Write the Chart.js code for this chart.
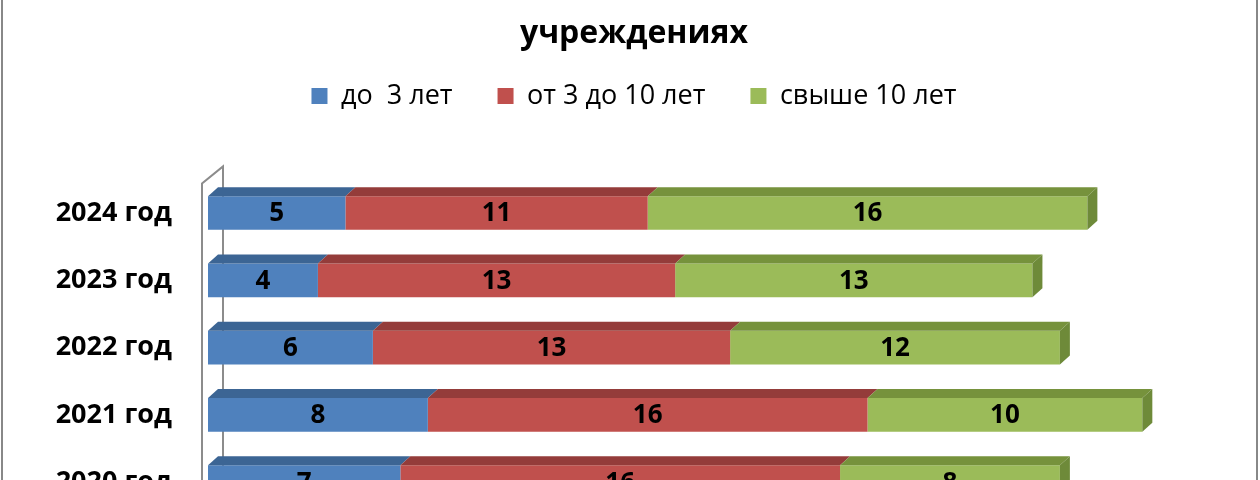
<!DOCTYPE html>
<html>
<head>
<meta charset="utf-8">
<script src="https://cdn.jsdelivr.net/npm/chart.js@4"></script>
<style>
  html, body { margin: 0; padding: 0; background: #fff; overflow: hidden; }
  #wrap { position: absolute; left: 0; top: 0; width: 1260px; height: 560px; }
</style>
</head>
<body>
<div id="wrap"><canvas id="chart" width="1260" height="560"></canvas></div>
<script>
// data
const years = ["2024 год", "2023 год", "2022 год", "2021 год", "2020 год"];
const upTo3 = [5, 4, 6, 8, 7];
const from3to10 = [11, 13, 13, 16, 16];
const over10 = [16, 13, 12, 10, 8];
const seriesNames = ["до  3 лет", "от 3 до 10 лет", "свыше 10 лет"];
const titleText = "учреждениях";

const FONT = "'Open Sans', 'Liberation Sans', sans-serif";
const colors = ["#4f81bd", "#c0504d", "#9bbb59"];
const topColors = ["#3c6594", "#943c3a", "#76923c"];
const sideColor = "#6e8a39";
const DX = 10, DY = 9;

// 3d look: wall, top faces, right side, value labels
const bar3d = {
  id: "bar3d",
  beforeDatasetsDraw(chart) {
    const ctx = chart.ctx, a = chart.chartArea;
    ctx.save();
    ctx.strokeStyle = "#8c8c8c";
    ctx.lineWidth = 2;
    ctx.beginPath();
    ctx.moveTo(a.left - 6, 600);
    ctx.lineTo(a.left - 6, a.top + 4);
    ctx.lineTo(a.left + 15, a.top - 13);
    ctx.lineTo(a.left + 15, 600);
    ctx.stroke();
    ctx.restore();
  },
  afterDatasetsDraw(chart) {
    const ctx = chart.ctx;
    ctx.save();
    const n = chart.data.datasets.length;
    chart.data.datasets.forEach((ds, i) => {
      chart.getDatasetMeta(i).data.forEach(el => {
        const x1 = el.base, x2 = el.x;
        const top = el.y - el.height / 2, bottom = el.y + el.height / 2;
        ctx.fillStyle = topColors[i];
        ctx.beginPath();
        ctx.moveTo(x1, top);
        ctx.lineTo(x1 + DX, top - DY);
        ctx.lineTo(x2 + DX, top - DY);
        ctx.lineTo(x2, top);
        ctx.closePath();
        ctx.fill();
        if (i === n - 1) {
          ctx.fillStyle = sideColor;
          ctx.beginPath();
          ctx.moveTo(x2, top);
          ctx.lineTo(x2 + DX, top - DY);
          ctx.lineTo(x2 + DX, bottom - DY);
          ctx.lineTo(x2, bottom);
          ctx.closePath();
          ctx.fill();
        }
      });
    });
    ctx.fillStyle = "#000";
    ctx.font = "bold 26px " + FONT;
    ctx.textAlign = "center";
    ctx.textBaseline = "middle";
    chart.data.datasets.forEach((ds, i) => {
      chart.getDatasetMeta(i).data.forEach((el, j) => {
        ctx.fillText(String(ds.data[j]), (el.base + el.x) / 2, el.y + 1);
      });
    });
    // outer frame
    ctx.strokeStyle = "#888";
    ctx.lineWidth = 2;
    ctx.strokeRect(2, -20, 1255, 640);
    ctx.restore();
  }
};

new Chart(document.getElementById("chart"), {
  type: "bar",
  data: {
    labels: years,
    datasets: [
      { label: seriesNames[0], data: upTo3, backgroundColor: colors[0] },
      { label: seriesNames[1], data: from3to10, backgroundColor: colors[1] },
      { label: seriesNames[2], data: over10, backgroundColor: colors[2] }
    ]
  },
  options: {
    indexAxis: "y",
    responsive: false,
    animation: false,
    layout: { padding: { left: 13, right: 5, top: 0, bottom: 20 } },
    datasets: { bar: { categoryPercentage: 0.5, barPercentage: 1, borderWidth: 0 } },
    scales: {
      x: {
        stacked: true, min: 0, max: 38.1, position: "top",
        grid: { display: false }, border: { display: false },
        ticks: { display: false },
        afterFit: s => { s.height = 60; }
      },
      y: {
        stacked: true,
        grid: { display: false }, border: { display: false },
        ticks: { color: "#000", padding: 28, font: { family: FONT, size: 27, weight: "bold" } },
        afterFit: s => { s.width = 195; }
      }
    },
    plugins: {
      title: {
        display: true, text: titleText, color: "#000",
        font: { family: FONT, size: 32, weight: "bold" },
        padding: { top: 15, bottom: -16 }
      },
      legend: {
        position: "top",
        labels: {
          color: "#000", boxWidth: 16, boxHeight: 16, padding: 45,
          font: { family: FONT, size: 27 }
        }
      },
      tooltip: { enabled: false }
    }
  },
  plugins: [bar3d]
});
</script>
</body>
</html>
